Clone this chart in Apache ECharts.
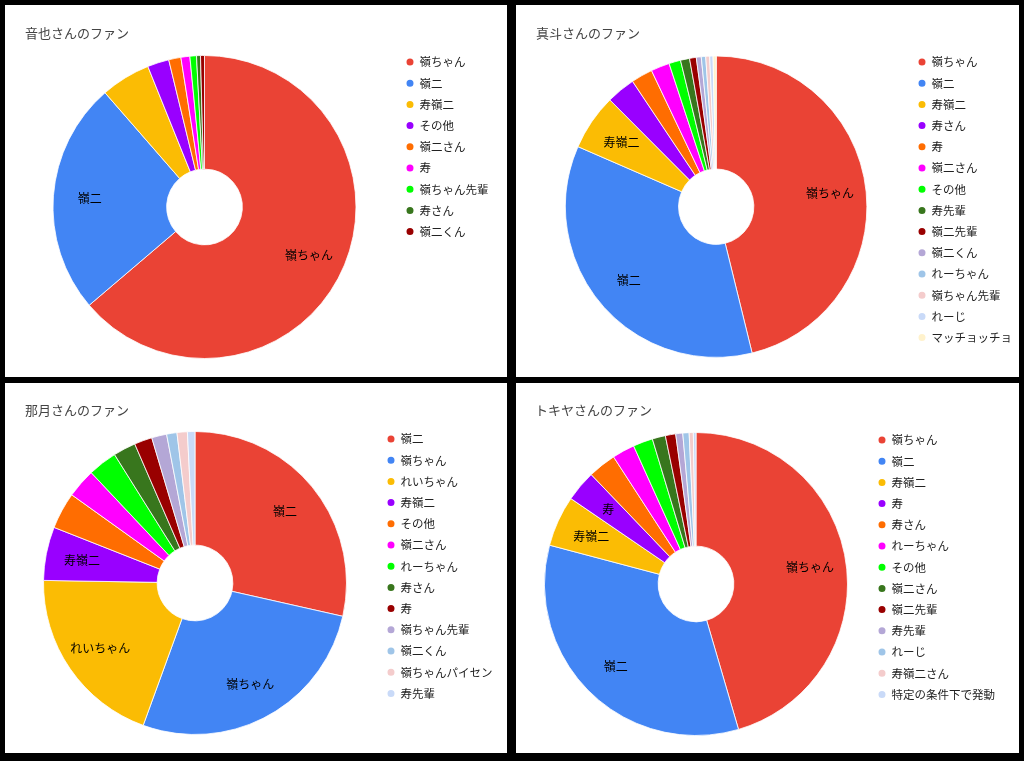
<!DOCTYPE html>
<html>
<head>
<meta charset="utf-8">
<script src="https://cdn.jsdelivr.net/npm/echarts@6/dist/echarts.min.js"></script>
<style>
  html, body { margin: 0; padding: 0; background: #000; width: 1024px; height: 761px; overflow: hidden; }
  .panel { position: absolute; background: #fff; }
</style>
</head>
<body>
<div id="p1" class="panel" style="left:5px;top:5px;width:502px;height:372px;"></div>
<div id="p2" class="panel" style="left:516px;top:5px;width:503px;height:372px;"></div>
<div id="p3" class="panel" style="left:5px;top:383px;width:502px;height:370px;"></div>
<div id="p4" class="panel" style="left:516px;top:383px;width:503px;height:370px;"></div>
<script>
// ---- data ----
const palette = ['#EA4335','#4285F4','#FBBC04','#9900FF','#FF6D01','#FF00FF','#00FF00','#38761D','#990000','#B4A7D6','#9FC5E8','#F4CCCC','#C9DAF8','#FFF2CC'];

const title1 = '音也さんのファン';
const names1 = ['嶺ちゃん','嶺二','寿嶺二','その他','嶺二さん','寿','嶺ちゃん先輩','寿さん','嶺二くん'];
const values1 = [637, 248, 53, 23, 13, 9.5, 7, 4.2, 4.2];
const labeled1 = ['嶺ちゃん','嶺二'];

const title2 = '真斗さんのファン';
const names2 = ['嶺ちゃん','嶺二','寿嶺二','寿さん','寿','嶺二さん','その他','寿先輩','嶺二先輩','嶺二くん','れーちゃん','嶺ちゃん先輩','れーじ','マッチョッチョ'];
const values2 = [461, 353, 60, 31, 23, 20, 12.5, 9.7, 7.2, 5.3, 4.7, 4.2, 3.6, 3.3];
const labeled2 = ['嶺ちゃん','嶺二','寿嶺二'];

const title3 = '那月さんのファン';
const names3 = ['嶺二','嶺ちゃん','れいちゃん','寿嶺二','その他','嶺二さん','れーちゃん','寿さん','寿','嶺ちゃん先輩','嶺二くん','嶺ちゃんパイセン','寿先輩'];
const values3 = [285, 270, 197, 57, 39, 31, 31, 24, 19, 16, 11, 11, 8];
const labeled3 = ['嶺二','嶺ちゃん','れいちゃん','寿嶺二'];

const title4 = 'トキヤさんのファン';
const names4 = ['嶺ちゃん','嶺二','寿嶺二','寿','寿さん','れーちゃん','その他','嶺二さん','嶺二先輩','寿先輩','れーじ','寿嶺二さん','特定の条件下で発動'];
const values4 = [454, 336, 54, 33, 30, 24, 21, 14, 11, 7.5, 6.7, 4.4, 2.8];
const labeled4 = ['嶺ちゃん','嶺二','寿嶺二','寿'];

// ---- layout ----
const layouts = [
  { el: 'p1', title: title1, names: names1, values: values1, labeled: labeled1,
    titlePos: [20, 22], center: [199.5, 202], r: 151.5, legendPos: [399.5, 50] },
  { el: 'p2', title: title2, names: names2, values: values2, labeled: labeled2,
    titlePos: [20, 22], center: [200.2, 201.7], r: 150.7, legendPos: [400.5, 50] },
  { el: 'p3', title: title3, names: names3, values: values3, labeled: labeled3,
    titlePos: [20, 21], center: [190, 200], r: 151.5, legendPos: [380.5, 49] },
  { el: 'p4', title: title4, names: names4, values: values4, labeled: labeled4,
    titlePos: [19, 21], center: [180, 201], r: 151.5, legendPos: [360.5, 50] }
];

const FONT = "'Noto Sans CJK JP', 'Noto Sans', sans-serif";

layouts.forEach(function (L) {
  const chart = echarts.init(document.getElementById(L.el), null, { renderer: 'canvas' });
  const data = L.names.map(function (n, i) { return { name: n, value: L.values[i] }; });
  const rInner = L.r * 0.25;
  chart.setOption({
    animation: false,
    color: palette,
    textStyle: { fontFamily: FONT },
    title: {
      text: L.title, left: L.titlePos[0], top: L.titlePos[1], padding: 0,
      textStyle: { fontSize: 13, fontWeight: 'normal', color: '#444', fontFamily: FONT, lineHeight: 13 }
    },
    legend: {
      orient: 'vertical', left: L.legendPos[0], top: L.legendPos[1], padding: 0,
      icon: 'circle', itemWidth: 9, itemHeight: 9, itemGap: 7.2,
      data: L.names,
      textStyle: { fontSize: 11.5, color: '#222', lineHeight: 14, fontFamily: FONT }
    },
    series: [
      {
        type: 'pie', center: L.center, radius: [rInner, L.r],
        startAngle: 90, clockwise: true, avoidLabelOverlap: false,
        itemStyle: { borderColor: '#fff', borderWidth: 0.8 },
        label: { show: false }, labelLine: { show: false },
        emphasis: { disabled: true },
        data: data
      },
      {
        type: 'pie', center: L.center, radius: [L.r * 0.48, L.r],
        startAngle: 90, clockwise: true, silent: true, avoidLabelOverlap: false,
        itemStyle: { color: 'rgba(0,0,0,0)', borderWidth: 0 },
        labelLine: { show: false },
        label: {
          show: true, position: 'inside', fontSize: 12, color: '#000', fontFamily: FONT,
          formatter: function (p) { return L.labeled.indexOf(p.name) >= 0 ? p.name : ''; }
        },
        emphasis: { disabled: true },
        data: data
      }
    ]
  });
});
</script>
</body>
</html>
